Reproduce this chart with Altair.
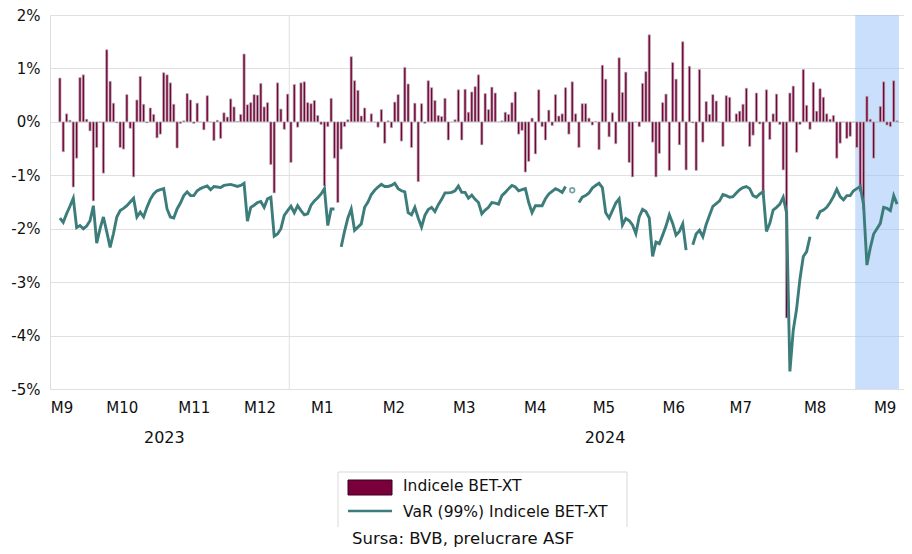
import altair as alt
import pandas as pd

# Daily returns of BET-XT (%) - one value per trading day
ret = [
    0.82, -0.56, 0.15, 0.03, -1.22, -0.68, 0.83, 0.88, 0.05, -0.17,
    -1.48, -0.48, -0.01, -0.96, 1.35, 0.76, 0.35, -0.02, -0.48, -0.51,
    0.51, -0.12, -1.03, 0.41, 0.85, 0.33, -0.02, 0.26, 0.14, -0.30,
    -0.23, 0.92, 0.88, 0.73, 0.33, -0.49, -0.03, 0.02, 0.53, 0.41,
    -0.03, 0.35, 0.00, -0.15, 0.49, 0.00, -0.35, 0.03, -0.31, 0.17,
    0.09, 0.43, 0.28, 0.01, 0.14, 1.27, 0.32, 0.36, 0.51, 0.50,
    0.72, 0.28, 0.36, -0.80, -1.33, 0.73, 0.24, -0.14, 0.52, -0.76,
    0.70, -0.10, 0.73, 0.75, 0.36, 0.34, 0.40, 0.12, -0.05, -1.20,
    -0.09, 0.44, -0.68, -1.51, -0.51, -0.09, 0.04, 1.22, 0.77, 0.59,
    0.11, 0.26, 0.00, 0.15, 0.00, -0.10, 0.23, -0.40, 0.02, -0.11,
    0.37, 0.51, -0.36, 1.02, 0.71, -0.48, 0.35, -1.12, 0.34, -0.03,
    0.77, 0.64, 0.40, 0.12, 0.10, 0.44, -0.34, 0.00, 0.04, 0.60,
    -0.34, 0.61, 0.18, 0.56, 0.66, 0.88, -0.43, 0.53, 0.23, 0.65,
    0.54, 0.00, 0.02, 0.18, 0.14, 0.36, 0.56, -0.23, -0.16, -0.94,
    -0.74, 0.07, -0.60, 0.60, -0.09, -0.34, 0.22, -0.07, 0.51, 0.11,
    0.15, 0.64, -0.23, 0.75, 0.15, -0.48, 0.34, 0.34, 0.07, -0.06,
    0.01, -0.52, 1.06, 0.80, -0.28, 0.17, -0.41, 1.20, 0.55, 0.93,
    -0.76, -1.03, 0.00, -0.09, 0.72, 0.94, 1.63, -0.38, -1.03, -0.59,
    0.36, 0.52, -0.91, 1.11, 0.80, -0.43, 1.50, -0.90, 1.04, -0.02,
    -0.91, 0.98, -0.38, 0.38, 0.14, 0.51, 0.39, 0.00, -0.46, 0.49,
    0.46, 0.00, 0.15, 0.20, 0.33, 0.63, -0.46, -0.25, 0.54, -0.04,
    -1.33, 0.60, -0.33, 0.15, 0.52, -0.05, -0.90, -3.67, 0.54, 0.67,
    -0.57, -0.05, 0.98, 0.31, -0.14, 0.74, 0.20, 0.62, 0.46, 0.15,
    0.05, 0.12, -0.68, -0.40, 0.00, -0.31, -0.27, 0.00, -0.48, -1.30,
    -1.64, 0.48, 0.05, -0.68, 0.00, 0.29, 0.75, -0.06, -0.09, 0.77,
    0.02,
]

# VaR (99%) of BET-XT (%) - None marks days without a value (gaps in the line)
var99 = [
    -1.80, -1.88, -1.72, -1.58, -1.43, -1.98, -1.94, -2.00, -1.95, -1.85,
    -1.57, -2.27, -2.00, -1.78, -2.06, -2.35, -2.09, -1.78, -1.66, -1.62,
    -1.57, -1.50, -1.43, -1.78, -1.69, -1.78, -1.60, -1.45, -1.35, -1.29,
    -1.27, -1.25, -1.63, -1.78, -1.80, -1.63, -1.52, -1.38, -1.31, -1.38,
    -1.38, -1.29, -1.25, -1.22, -1.20, -1.27, -1.21, -1.22, -1.23, -1.19,
    -1.18, -1.17, -1.19, -1.21, -1.19, -1.15, -1.86, -1.60, -1.56, -1.51,
    -1.49, -1.60, -1.44, -1.41, -2.14, -2.10, -2.00, -1.75, -1.66, -1.58,
    -1.70, -1.57, -1.66, -1.74, -1.72, -1.56, -1.48, -1.42, -1.35, -1.25,
    -1.94, -1.63, -1.63, None, -2.34, -2.05, -1.80, -1.63, -2.03, -1.97,
    -1.91, -1.60, -1.50, -1.36, -1.28, -1.22, -1.17, -1.21, -1.21, -1.19,
    -1.15, -1.25, -1.29, -1.31, -1.70, -1.74, -1.60, -1.80, -1.97, -1.75,
    -1.64, -1.60, -1.68, -1.55, -1.45, -1.33, -1.33, -1.32, -1.29, -1.20,
    -1.32, -1.32, -1.43, -1.37, -1.45, -1.51, -1.72, -1.65, -1.60, -1.51,
    -1.52, -1.54, -1.38, -1.32, -1.25, -1.19, -1.22, -1.29, -1.27, -1.25,
    -1.51, -1.70, -1.57, -1.57, -1.57, -1.44, -1.35, -1.30, -1.25, -1.28,
    -1.32, -1.21, None, -1.28, None, -1.51, -1.41, -1.38, -1.33, -1.24,
    -1.19, -1.15, -1.23, -1.70, -1.80, -1.66, -1.52, -1.44, -1.93, -1.81,
    -1.85, -1.93, -2.09, -1.78, -1.64, -1.68, -1.80, -2.52, -2.25, -2.28,
    -2.12, -1.95, -1.74, -1.90, -2.12, -2.05, -1.91, -2.40, None, -2.30,
    -2.10, -2.03, -2.15, -1.92, -1.75, -1.58, -1.53, -1.48, -1.36, -1.38,
    -1.41, -1.40, -1.33, -1.27, -1.23, -1.21, -1.25, -1.38, -1.41, -1.35,
    -1.31, -2.05, -1.90, -1.65, -1.60, -1.54, -1.41, -1.70, -4.67, -3.90,
    -3.50, -2.94, -2.52, -2.43, -2.15, None, -1.82, -1.68, -1.65, -1.60,
    -1.51, -1.40, -1.26, -1.40, -1.46, -1.38, -1.38, -1.29, -1.25, -1.21,
    -1.55, -2.68, -2.36, -2.10, -2.00, -1.90, -1.60, -1.62, -1.66, -1.38,
    -1.54,
]

month_labels = ["M9", "M10", "M11", "M12", "M1", "M2", "M3", "M4", "M5", "M6", "M7", "M8", "M9"]
month_pos = [1.5, 19.5, 41.0, 60.6, 79.2, 100.6, 121.6, 142.8, 163.3, 184.2, 204.2, 226.4, 247.3]
years = ["2023", "2024"]
year_pos = [32.2, 163.8]
year_split = [69.5]          # between last 2023 and first 2024 trading day
highlight = [238.5, 251.58]  # shaded last period
y_ticks = [-5, -4, -3, -2, -1, 0, 1, 2]
legend_labels = ["Indicele BET-XT", "VaR (99%) Indicele BET-XT"]
source_text = ["Sursa: BVB, prelucrare ASF"]

BAR = "#7A003C"
TEAL = "#3C7D7B"
GRID = "#E0E0E0"
FONT = "DejaVu Sans"
TXT = "#111111"

n = len(ret)
df = pd.DataFrame({"i": list(range(1, n + 1)), "ret": ret, "var": var99})
iso = [k for k in range(n) if var99[k] is not None
       and (k == 0 or var99[k - 1] is None) and (k == n - 1 or var99[k + 1] is None)]
df_iso = df.iloc[iso]

W, H = 854, 374
x_scale = alt.Scale(domain=[-0.46, 251.58], nice=False, zero=False)
y_scale = alt.Scale(domain=[-5, 2], nice=False, zero=False)

expr_vals = "[" + ",".join(str(v) for v in month_pos) + "]"
expr_labs = "[" + ",".join("'" + m + "'" for m in month_labels) + "]"
x_axis = alt.Axis(title="", values=month_pos, labelExpr=f"{expr_labs}[indexof({expr_vals}, datum.value)]",
                  grid=False, ticks=False, domain=False, labelFlush=False, labelOverlap=False,
                  labelFont=FONT, labelFontSize=15, labelColor=TXT, labelBaseline="middle",
                  labelPadding=18)
y_axis = alt.Axis(title="", values=y_ticks, labelExpr="datum.value + '%'", grid=True,
                  gridColor=GRID, gridWidth=1, ticks=False, domain=False,
                  labelFont=FONT, labelFontSize=15, labelColor=TXT, labelPadding=10)

X = alt.X("i:Q", scale=x_scale, axis=x_axis)

shade = alt.Chart(pd.DataFrame({"a": [highlight[0]], "b": [highlight[1]]})).mark_rect(
    fill="#95C0F7", opacity=0.5).encode(
    x=alt.X("a:Q", scale=x_scale, axis=x_axis), x2="b:Q",
    y=alt.datum(2, scale=y_scale, axis=y_axis), y2=alt.datum(-5))

sep = alt.Chart(pd.DataFrame({"s": year_split})).mark_rule(color=GRID, strokeWidth=1).encode(
    x=alt.X("s:Q", scale=x_scale, axis=x_axis), y=alt.datum(2), y2=alt.datum(-5))

bars = alt.Chart(df).mark_bar(width=2.3, fill=BAR, stroke="#BDBDBD", strokeWidth=0.7).encode(
    x=X, y=alt.Y("ret:Q", scale=y_scale, axis=y_axis), y2=alt.datum(0))

line = alt.Chart(df).mark_line(color=TEAL, strokeWidth=2.9, invalid="break-paths-show-domains").encode(
    x=X, y=alt.Y("var:Q", scale=y_scale, axis=y_axis))

pts = alt.Chart(df_iso).mark_point(shape="circle", filled=False, size=22, color=TEAL, strokeWidth=1.6).encode(
    x=X, y=alt.Y("var:Q", scale=y_scale, axis=y_axis))

year_txt = alt.Chart(pd.DataFrame({"pos": year_pos, "label": years})).mark_text(
    font=FONT, fontSize=16, color=TXT, baseline="middle", align="center").encode(
    x=alt.X("pos:Q", scale=x_scale, axis=x_axis), y=alt.value(422.5), text="label:N")

leg = pd.DataFrame({"label": [legend_labels[0]]})
box_l = alt.Chart(leg).mark_rule(color="#D9D9D9", strokeWidth=1).encode(
    x=alt.value(288), y=alt.value(457), y2=alt.value(512))
box_t = alt.Chart(leg).mark_rule(color="#D9D9D9", strokeWidth=1).encode(
    x=alt.value(288), x2=alt.value(577), y=alt.value(457))
box_r = alt.Chart(leg).mark_rule(color="#D9D9D9", strokeWidth=1).encode(
    x=alt.value(577), y=alt.value(457), y2=alt.value(512))
swatch = alt.Chart(leg).mark_rect(fill=BAR, stroke="#3A0020", strokeWidth=1).encode(
    x=alt.value(298), x2=alt.value(342), y=alt.value(465), y2=alt.value(480))
leg_line = alt.Chart(leg).mark_rule(color=TEAL, strokeWidth=2.6).encode(
    x=alt.value(298), x2=alt.value(342), y=alt.value(496))
leg_t1 = alt.Chart(pd.DataFrame({"label": [legend_labels[0]]})).mark_text(
    font=FONT, fontSize=15.5, color=TXT, align="left", baseline="middle").encode(
    x=alt.value(353), y=alt.value(471), text="label:N")
leg_t2 = alt.Chart(pd.DataFrame({"label": [legend_labels[1]]})).mark_text(
    font=FONT, fontSize=15.5, color=TXT, align="left", baseline="middle").encode(
    x=alt.value(353), y=alt.value(497), text="label:N")
src = alt.Chart(pd.DataFrame({"label": source_text})).mark_text(
    font=FONT, fontSize=16.5, color=TXT, align="left", baseline="middle").encode(
    x=alt.value(302), y=alt.value(524), text="label:N")

chart = alt.layer(shade, sep, bars, line, pts, year_txt,
                  box_l, box_t, box_r, swatch, leg_line, leg_t1, leg_t2, src).properties(
    width=W, height=H,
    autosize=alt.AutoSizeParams(type="none"),
    padding={"left": 42, "top": 7, "right": 0, "bottom": 161},
).configure_view(strokeWidth=0).configure(font=FONT)

chart.save("out.html", embed_options={"renderer": "svg", "actions": False})
